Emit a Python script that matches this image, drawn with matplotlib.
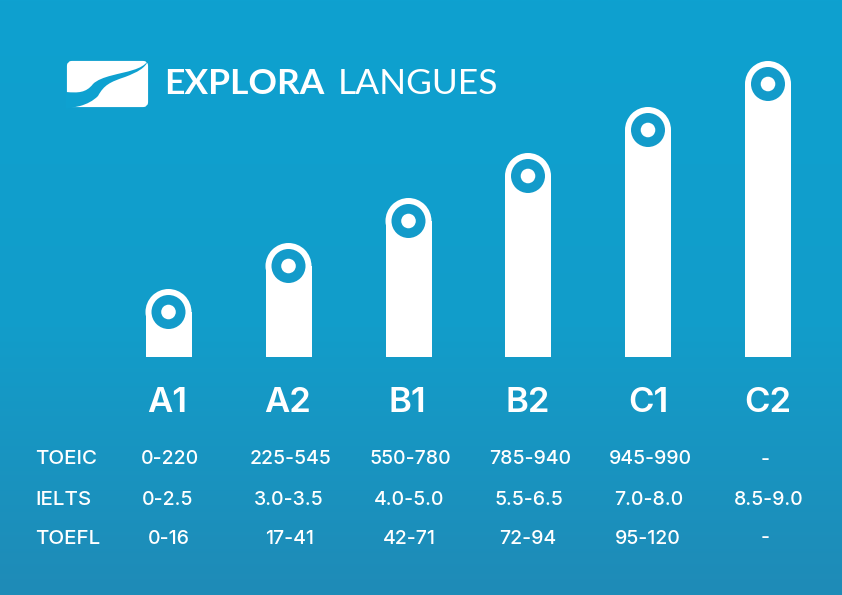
import numpy as np
import matplotlib
matplotlib.use("Agg")
import matplotlib.pyplot as plt
from matplotlib.patches import Circle, PathPatch, FancyBboxPatch
from matplotlib.path import Path
from matplotlib.colors import LinearSegmentedColormap

levels = ["A1", "A2", "B1", "B2", "C1", "C2"]
heights = [68, 114, 159, 204, 250, 296]
toeic = ["0-220", "225-545", "550-780", "785-940", "945-990", "-"]
ielts = ["0-2.5", "3.0-3.5", "4.0-5.0", "5.5-6.5", "7.0-8.0", "8.5-9.0"]
toefl = ["0-16", "17-41", "42-71", "72-94", "95-120", "-"]
rows = [("TOEIC", toeic), ("IELTS", ielts), ("TOEFL", toefl)]

FONT = "Inter"
TOP = "#0EA1D0"
MID = "#129DCA"
BOTTOM = "#1F8BB7"
RING = "#139BCA"
centers = [168.5, 288.5, 408.5, 528, 648, 768]
label_x = [167.5, 288, 407, 528, 648, 768]
row_x = [[170, 290.5, 410.5, 530.5, 650, 765],
         [168, 289, 409, 529, 649, 769],
         [169, 289.5, 409, 528, 648, 765]]
row_y = [459.5, 500, 538.5]

fig = plt.figure(figsize=(8.42, 5.95), dpi=100)
ax = fig.add_axes([0, 0, 1, 1])
ax.set_xlim(0, 842)
ax.set_ylim(-238, 357)   # bar baseline is value 0
ax.axis("off")


def py(p):
    return 357 - p


cmap = LinearSegmentedColormap.from_list("bg", [(0, TOP), (0.55, MID), (1, BOTTOM)])
ax.imshow(np.linspace(0, 1, 256).reshape(-1, 1), cmap=cmap, aspect="auto",
          extent=(0, 842, -238, 357), origin="upper", zorder=0)

width = 46
for x, h in zip(centers, heights):
    r = width / 2
    ax.bar(x, h - r, width=width, bottom=0, color="white", linewidth=0, zorder=2)
    ax.add_patch(Circle((x, h - r), r, fc="white", ec="none", zorder=2))
    ax.add_patch(Circle((x, h - r), 17, fc=RING, ec="none", zorder=3))
    ax.add_patch(Circle((x, h - r), 7.3, fc="white", ec="none", zorder=4))

for x, lab in zip(label_x, levels):
    ax.text(x, py(402.5), lab, color="white", fontsize=25, fontweight="semibold",
            family=FONT, ha="center", va="center")

for (name, vals), y, xs in zip(rows, row_y, row_x):
    ax.text(35, py(y), name, color="white", fontsize=14.8, fontweight="medium",
            family=FONT, ha="left", va="center")
    for x, v in zip(xs, vals):
        ax.text(x, py(y), v, color="white", fontsize=14, fontweight="medium",
                family=FONT, ha="center", va="center")

# logo
ax.add_patch(FancyBboxPatch((69, py(105)), 77, 42, boxstyle="round,pad=0,rounding_size=3",
                            fc="white", ec="white", lw=3, zorder=2))
M, C = Path.MOVETO, Path.CURVE4
L = Path.LINETO
swoosh = [(66, 92), (78, 93), (86, 93), (93, 84), (101, 76), (121, 74), (133, 70), (140, 68),
          (145, 65), (148, 61), (145, 68), (138, 72), (125, 77), (110, 82), (104, 85),
          (98, 96), (93, 101), (87, 104), (80, 106), (66, 109), (66, 92)]
codes = [M, C, C, C, C, C, C, C, C, C, C, C, C, C, C, C, C, C, L, L, L]
swoosh_xy = [(a, py(b)) for a, b in swoosh]
ax.add_patch(PathPatch(Path(swoosh_xy, codes), fc=TOP, ec="none", zorder=3))

ax.text(164, py(84), "EXPLORA", color="white", fontsize=25.5, fontweight="bold",
        family="Lato", ha="left", va="center")
ax.text(338, py(84), "LANGUES", color="white", fontsize=25.5, fontweight="normal",
        family="Lato", ha="left", va="center")

fig.savefig("out.png", dpi=100)
